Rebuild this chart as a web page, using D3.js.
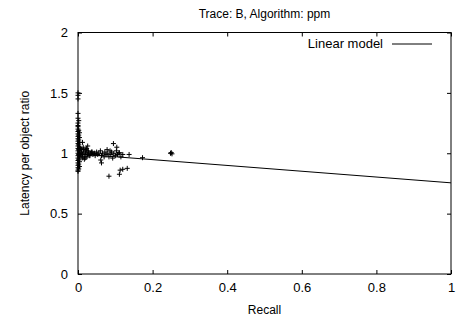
<!DOCTYPE html>
<html>
<head>
<meta charset="utf-8">
<script src="https://cdn.jsdelivr.net/npm/d3@7"></script>
<style>
  body { margin: 0; background: #fff; }
  text { font-family: "Liberation Sans", Arial, sans-serif; fill: #000; }
</style>
</head>
<body>
<div id="chart"></div>
<script>
// recall / ratio pairs
const recallVals = [
  0, 0, 0, 0, 0, 0, 0, 0, 0, 0, 0, 0, 0, 0, 0, 0, 0, 0, 0, 0,
  0.002, 0.002, 0.002, 0.002, 0.002, 0.002, 0.002, 0.002, 0.002, 0.002,
  0.004, 0.004, 0.004, 0.004, 0.004, 0.004, 0.004, 0.004,
  0, 0, 0, 0, 0, 0, 0,
  0.005, 0.008, 0.01, 0.012, 0.015, 0.018, 0.02, 0.022, 0.025, 0.028,
  0.03, 0.033, 0.036, 0.04, 0.043, 0.046, 0.05, 0.053, 0.056, 0.06,
  0.063, 0.066, 0.07, 0.072, 0.075, 0.078, 0.08, 0.083, 0.086, 0.088,
  0.09, 0.093, 0.096, 0.1, 0.103, 0.106, 0.11, 0.115, 0.12,
  0.007, 0.011, 0.014, 0.017, 0.021, 0.024, 0.027, 0.032, 0.038, 0.045,
  0.006, 0.009, 0.013, 0.016, 0.019, 0.023,
  0.012, 0.026, 0.095, 0.104, 0.111, 0.137, 0.173,
  0.061, 0.063, 0.083, 0.111, 0.113, 0.12, 0.132,
  0.248, 0.25, 0.252
];
const ratioVals = [
  0.86, 0.88, 0.9, 0.92, 0.94, 0.96, 0.98, 1.0, 1.02, 1.04, 1.06, 1.08, 1.1, 1.12, 1.14, 1.16, 1.18, 1.2, 1.22, 1.25,
  0.87, 0.91, 0.95, 0.99, 1.03, 1.07, 1.11, 1.15, 1.19, 1.27,
  0.89, 0.93, 0.97, 1.01, 1.05, 1.09, 1.13, 1.17,
  1.29, 1.33, 1.45, 1.48, 1.5, 0.85, 1.23,
  1.02, 0.98, 1.01, 0.99, 1.03, 0.97, 1.0, 1.02, 0.99, 1.01,
  0.98, 1.0, 1.01, 0.99, 1.0, 0.98, 1.01, 0.99, 1.0, 1.02,
  0.98, 1.0, 0.97, 1.01, 0.99, 1.03, 1.0, 0.97, 1.02, 0.99,
  1.01, 0.96, 1.0, 0.98, 1.02, 0.99, 1.0, 0.97, 0.99,
  1.04, 0.96, 1.05, 0.95, 1.03, 0.97, 1.02, 0.98, 1.01, 1.0,
  0.99, 1.03, 0.97, 1.01, 0.96, 1.04,
  1.09, 1.06, 1.08, 1.05, 1.005, 0.99, 0.963,
  0.944, 0.92, 0.81, 0.826, 0.86, 0.867, 0.875,
  1.0, 1.005, 0.995
];

// linear model end points
const modelX = [0, 1];
const modelY = [0.995, 0.755];

const xTicks = [0, 0.2, 0.4, 0.6, 0.8, 1];
const yTicks = [0, 0.5, 1, 1.5, 2];

const W = 457, H = 323;
const margin = { top: 32.5, right: 6, bottom: 49, left: 78 };
const width = W - margin.left - margin.right;
const height = H - margin.top - margin.bottom;

const svg = d3.select("#chart")
  .append("svg")
  .attr("width", W)
  .attr("height", H);

const g = svg.append("g")
  .attr("transform", "translate(" + margin.left + "," + margin.top + ")");

const x = d3.scaleLinear().domain([0, 1]).range([0, width]);
const y = d3.scaleLinear().domain([0, 2]).range([height, 0]);

const fmt = d => d3.format("~g")(d);

// axes with inward ticks (gnuplot style), mirrored on opposite sides
g.append("g")
  .attr("transform", "translate(0," + height + ")")
  .call(d3.axisBottom(x).tickValues(xTicks).tickSize(-4).tickPadding(9).tickFormat(fmt))
  .call(a => a.select(".domain").remove())
  .call(a => a.selectAll("text").attr("font-size", 13).attr("dy", "0.71em"));
g.append("g")
  .call(d3.axisTop(x).tickValues(xTicks).tickSize(-4).tickFormat(""))
  .call(a => a.select(".domain").remove());
g.append("g")
  .call(d3.axisLeft(y).tickValues(yTicks).tickSize(-4).tickPadding(10).tickFormat(fmt))
  .call(a => a.select(".domain").remove())
  .call(a => a.selectAll("text").attr("font-size", 13));
g.append("g")
  .attr("transform", "translate(" + width + ",0)")
  .call(d3.axisRight(y).tickValues(yTicks).tickSize(-4).tickFormat(""))
  .call(a => a.select(".domain").remove());

g.selectAll(".tick line").attr("stroke", "#000");

// border
g.append("rect")
  .attr("width", width)
  .attr("height", height)
  .attr("fill", "none")
  .attr("stroke", "#000")
  .attr("stroke-width", 1);

// model line
const lineData = modelX.map((d, i) => [d, modelY[i]]);
g.append("path")
  .datum(lineData)
  .attr("fill", "none")
  .attr("stroke", "#000")
  .attr("stroke-width", 1)
  .attr("d", d3.line().x(d => x(d[0])).y(d => y(d[1])));

// points drawn as plus marks
const pts = recallVals.map((d, i) => ({ r: d, v: ratioVals[i] }));
const s = 2.5;
g.append("g")
  .selectAll("path")
  .data(pts)
  .enter()
  .append("path")
  .attr("stroke", "#000")
  .attr("stroke-width", 1)
  .attr("d", d => {
    const cx = x(d.r), cy = y(d.v);
    return "M" + (cx - s) + "," + cy + "H" + (cx + s) + "M" + cx + "," + (cy - s) + "V" + (cy + s);
  });

// legend
svg.append("text")
  .attr("x", 383)
  .attr("y", 48)
  .attr("text-anchor", "end")
  .attr("font-size", 13)
  .text("Linear model");
svg.append("line")
  .attr("x1", 392).attr("x2", 432)
  .attr("y1", 44).attr("y2", 44)
  .attr("stroke", "#000");

// title and labels
svg.append("text")
  .attr("x", margin.left + width / 2)
  .attr("y", 18)
  .attr("text-anchor", "middle")
  .attr("font-size", 12)
  .text("Trace: B, Algorithm: ppm");

svg.append("text")
  .attr("x", margin.left + width / 2)
  .attr("y", 314)
  .attr("text-anchor", "middle")
  .attr("font-size", 12)
  .text("Recall");

svg.append("text")
  .attr("transform", "translate(29," + (margin.top + height / 2) + ") rotate(-90)")
  .attr("text-anchor", "middle")
  .attr("font-size", 12)
  .text("Latency per object ratio");
</script>
</body>
</html>
